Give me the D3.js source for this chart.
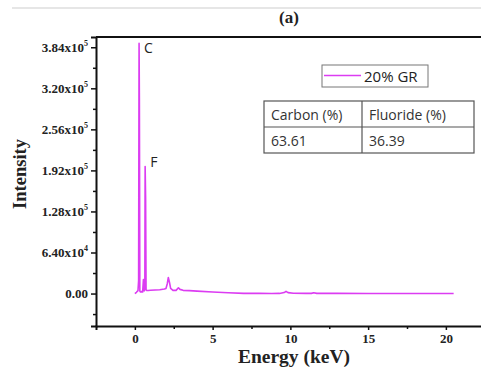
<!DOCTYPE html>
<html>
<head>
<meta charset="utf-8">
<script src="https://cdn.jsdelivr.net/npm/d3@7"></script>
<style>
  html, body { margin: 0; padding: 0; background: #fff; }
  svg { display: block; }
</style>
</head>
<body>
<svg id="chart" width="481" height="374"></svg>
<script>
// ---- data ----
const energy = [0, 0.1, 0.2, 0.24, 0.27, 0.29, 0.32, 0.36, 0.42, 0.5, 0.55, 0.6, 0.64, 0.66, 0.69, 0.72, 0.76, 0.85, 1.0, 1.3, 1.6, 1.9, 2.0, 2.08, 2.15, 2.22, 2.3, 2.45, 2.65, 2.8, 2.9, 3.1, 3.5, 4.0, 5.0, 6.0, 7.0, 8.0, 8.8, 9.3, 9.6, 9.72, 9.85, 10.2, 11.0, 11.35, 11.5, 11.7, 13.0, 15.0, 18.0, 20.5];
const counts = [0, 2000, 4500, 20000, 390000, 300000, 4000, 2500, 3000, 2500, 22000, 4000, 6000, 198000, 150000, 6000, 5000, 4800, 5200, 5600, 6000, 7000, 8000, 15000, 25000, 18000, 8000, 5000, 5000, 9000, 6500, 5000, 4500, 3800, 2500, 1200, 300, 200, 0, 200, 1500, 3500, 1500, 500, 300, 300, 1300, 300, 200, 0, 0, 0];
const xTicks = [0, 5, 10, 15, 20];
const yTicks = [0, 64000, 128000, 192000, 256000, 320000, 384000];
const yTickMantissa = ["0.00", "6.40", "1.28", "1.92", "2.56", "3.20", "3.84"];
const yTickExponent = ["", "4", "5", "5", "5", "5", "5"];
const seriesName = "20% GR";
const tableHeaders = ["Carbon (%)", "Fluoride (%)"];
const tableValues = ["63.61", "36.39"];
const peakNames = ["C", "F"];
const peakEnergy = [0.27, 0.66];
const peakCounts = [390000, 198000];

// ---- layout ----
const svg = d3.select("#chart");
const pL = 96, pT = 37, pB = 326;
const x = d3.scaleLinear().domain([-2.5, 24.2]).range([pL, pL + (24.2 + 2.5) * 15.55]);
const y = d3.scaleLinear().domain([-50600, 400000]).range([pB, pT]);
const magenta = "#dc3cf2";
const peakLabelDy = [10, 0];

// faint top page line
svg.append("line").attr("x1", 12).attr("x2", 481).attr("y1", 8).attr("y2", 8)
  .attr("stroke", "#e6e6e6").attr("stroke-width", 2);

// title
svg.append("text").attr("x", 289).attr("y", 23).attr("text-anchor", "middle")
  .attr("font-family", "Liberation Serif").attr("font-weight", "bold").attr("font-size", 17)
  .attr("fill", "#222").text("(a)");

// spectrum
const line = d3.line().x((d, i) => x(energy[i])).y(d => y(d));
svg.append("path").datum(counts).attr("d", line)
  .attr("fill", "none").attr("stroke", magenta).attr("stroke-width", 1.6)
  .attr("stroke-linejoin", "round");

// peak labels
peakNames.forEach((n, i) => {
  svg.append("text").attr("x", x(peakEnergy[i]) + 5).attr("y", y(peakCounts[i]) + peakLabelDy[i])
    .attr("font-family", "Open Sans").attr("font-size", 14).attr("fill", "#222").text(n);
});

// axes frame
svg.append("line").attr("x1", pL).attr("x2", 481).attr("y1", pT).attr("y2", pT)
  .attr("stroke", "#111").attr("stroke-width", 2);

const xAxis = d3.axisBottom(x).tickValues(xTicks).tickSize(4).tickPadding(4).tickFormat(d3.format("d"));
const gx = svg.append("g").attr("transform", `translate(0,${pB})`).call(xAxis);
gx.select(".domain").attr("stroke", "#111").attr("stroke-width", 2);
gx.selectAll(".tick line").attr("stroke", "#111").attr("stroke-width", 1.5);
gx.selectAll(".tick text").attr("font-family", "Liberation Serif").attr("font-weight", "bold")
  .attr("font-size", 13).attr("fill", "#222");
// minor x ticks
const gxm = svg.append("g").attr("transform", `translate(0,${pB})`)
  .call(d3.axisBottom(x).tickValues([2.5, 7.5, 12.5, 17.5, 22.5]).tickSize(3).tickFormat(""));
gxm.select(".domain").remove();
gxm.selectAll(".tick line").attr("stroke", "#111").attr("stroke-width", 1.5);

const yAxis = d3.axisLeft(y).tickValues(yTicks).tickSize(5).tickPadding(4).tickFormat("");
const gy = svg.append("g").attr("transform", `translate(${pL},0)`).call(yAxis);
gy.select(".domain").attr("stroke", "#111").attr("stroke-width", 2);
gy.selectAll(".tick line").attr("stroke", "#111").attr("stroke-width", 1.5);
const gym = svg.append("g").attr("transform", `translate(${pL},0)`)
  .call(d3.axisLeft(y).tickValues([-32000, 32000, 96000, 160000, 224000, 288000, 352000]).tickSize(3).tickFormat(""));
gym.select(".domain").remove();
gym.selectAll(".tick line").attr("stroke", "#111").attr("stroke-width", 1.5);

// y tick labels with superscripts
const yl = svg.append("g");
yTicks.forEach((v, i) => {
  const t = yl.append("text").attr("x", 88).attr("y", y(v) + 4.5).attr("text-anchor", "end")
    .attr("font-family", "Liberation Serif").attr("font-weight", "bold").attr("font-size", 13)
    .attr("fill", "#222");
  if (yTickExponent[i]) {
    t.append("tspan").text(yTickMantissa[i] + "x10");
    t.append("tspan").attr("dy", -5.5).attr("font-size", 8).text(yTickExponent[i]);
  } else {
    t.text(yTickMantissa[i]);
  }
});

// axis titles
svg.append("text").attr("transform", "translate(26,174) rotate(-90)").attr("text-anchor", "middle")
  .attr("font-family", "Liberation Serif").attr("font-weight", "bold").attr("font-size", 18.5)
  .attr("fill", "#222").text("Intensity");
svg.append("text").attr("x", 294).attr("y", 363).attr("text-anchor", "middle")
  .attr("font-family", "Liberation Serif").attr("font-weight", "bold").attr("font-size", 19.5)
  .attr("fill", "#222").text("Energy (keV)");

// legend
const lg = svg.append("g");
lg.append("rect").attr("x", 322).attr("y", 65).attr("width", 106).attr("height", 22)
  .attr("fill", "#fff").attr("stroke", "#777").attr("stroke-width", 1);
lg.append("line").attr("x1", 324).attr("x2", 361).attr("y1", 75.5).attr("y2", 75.5)
  .attr("stroke", magenta).attr("stroke-width", 1.6);
lg.append("text").attr("x", 364).attr("y", 81.5).attr("font-family", "Open Sans")
  .attr("font-size", 15).attr("fill", "#222").text(seriesName);

// table
const tb = svg.append("g");
const tx0 = 264, tx1 = 362, tx2 = 474, ty0 = 101, ty1 = 127, ty2 = 153;
tb.append("rect").attr("x", tx0).attr("y", ty0).attr("width", tx2 - tx0).attr("height", ty2 - ty0)
  .attr("fill", "#fff").attr("stroke", "#555").attr("stroke-width", 1.2);
tb.append("line").attr("x1", tx0).attr("x2", tx2).attr("y1", ty1).attr("y2", ty1).attr("stroke", "#555").attr("stroke-width", 1.2);
tb.append("line").attr("x1", tx1).attr("x2", tx1).attr("y1", ty0).attr("y2", ty2).attr("stroke", "#555").attr("stroke-width", 1.2);
const cols = [tx0, tx1];
tableHeaders.forEach((h, i) => {
  tb.append("text").attr("x", cols[i] + 7).attr("y", ty0 + 18.5).attr("font-family", "Open Sans")
    .attr("font-size", 14).attr("fill", "#333").text(h);
});
tableValues.forEach((v, i) => {
  tb.append("text").attr("x", cols[i] + 7).attr("y", ty1 + 18.5).attr("font-family", "Open Sans")
    .attr("font-size", 14).attr("fill", "#333").text(v);
});
</script>
</body>
</html>
